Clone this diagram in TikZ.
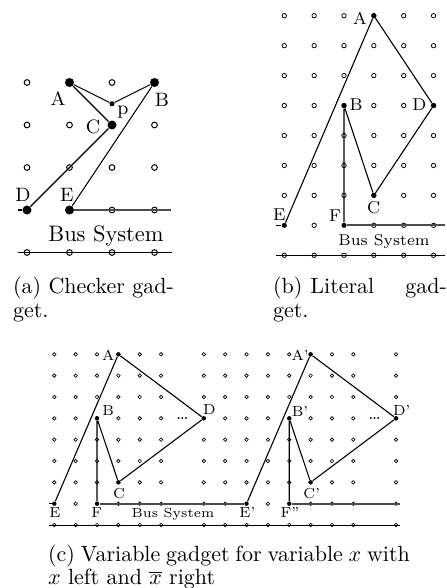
\documentclass[tikz,border=0pt]{standalone}
\usepackage{amsmath}
\usetikzlibrary{positioning}

\begin{document}
\begin{tikzpicture}[
  x=0.4545pt, y=-0.4545pt,
  gpa/.style={circle, draw, line width=0.45pt, inner sep=0pt, minimum size=2.6pt},
  gpb/.style={circle, draw, line width=0.35pt, inner sep=0pt, minimum size=2pt},
  gpc/.style={circle, draw, line width=0.3pt, inner sep=0pt, minimum size=1.6pt},
  dota/.style={circle, fill, inner sep=0pt, minimum size=4.1pt},
  dotb/.style={circle, fill, inner sep=0pt, minimum size=2.3pt},
  dotc/.style={circle, fill, inner sep=0pt, minimum size=2pt},
  lbla/.style={inner sep=0pt, font=\fontsize{8.8}{10}\selectfont},
  lblb/.style={inner sep=0pt, font=\fontsize{7.8}{9}\selectfont},
  lblc/.style={inner sep=0pt, font=\fontsize{6.6}{8}\selectfont},
  wire/.style={line width=0.5pt},
  busline/.style={line width=0.8pt, black!70},
  capt/.style={anchor=north west, inner sep=0pt, font=\fontsize{10}{10.8}\selectfont}
]
\useasboundingbox (0,0) rectangle (447,588);

% (a) Checker gadget
\foreach \i in {0,...,3}
  \foreach \j in {0,1,2}
    \node[gpa] (ga-\i-\j) at ({27+42.5*\i},{82.5+42.5*\j}) {};
\foreach \i in {2,3}
  \node[gpa] (ga-\i-3) at ({27+42.5*\i},210) {};
\foreach \i in {0,...,3}
  \node[gpa] (ga-\i-4) at ({27+42.5*\i},252.5) {};

\node[dota] (aA) at (69.5,82.5) {};
\node[dota] (aB) at (154.5,82.5) {};
\node[dota] (aC) at (112,125) {};
\node[dota, minimum size=2.3pt] (ap) at (112,103.75) {};
\node[dota] (aD) at (27,210) {};
\node[dota] (aE) at (69.5,210) {};
\coordinate (aDl) at (18,210);
\coordinate (aEr) at (171,210);
\coordinate (aBl) at (18,252.5);
\coordinate (aBr) at (172,252.5);

\draw[wire] (aA) -- (ap) -- (aB);
\draw[wire] (aA) -- (aC) -- (aD);
\draw[wire] (aB) -- (aE);
\draw[wire] (aDl) -- (aD);
\draw[busline] (aE) -- (aEr);
\draw[wire] (aBl) -- (aBr);

\node[lbla] (laA) at (58,99) {A};
\node[lbla] (laB) at (162,100) {B};
\node[lbla] (lap) at (123,112) {p};
\node[lbla] (laC) at (93,127) {C};
\node[lbla] (laD) at (23,195) {D};
\node[lbla] (laE) at (67,195) {E};
\node[inner sep=0pt, font=\fontsize{10.2}{12}\selectfont] (abus) at (106,236) {Bus System};

\node[capt, text width=74pt, align=left] (capa) at (12.7,276.8)
  {(a) Checker gad-\\get.};

% (b) Literal gadget
\foreach \i in {0,...,5}
  \foreach \j in {0,...,6}
    \node[gpb] (gb-\i-\j) at ({284.3+29.85*\i},{15.7+29.95*\j}) {};
\foreach \i in {1,3,4,5}
  \node[gpb] (gb-\i-7) at ({284.3+29.85*\i},225.35) {};
\foreach \i in {0,...,5}
  \node[gpb] (gb-\i-8) at ({284.3+29.85*\i},255.3) {};

\node[dotb] (bA) at (373.85,15.7) {};
\node[dotb] (bB) at (344,105.55) {};
\node[dotb] (bD) at (433.55,105.55) {};
\node[dotb] (bC) at (373.85,195.4) {};
\node[dotb] (bE) at (284.3,225.35) {};
\node[dotb] (bF) at (344,225.35) {};
\coordinate (bEl) at (276,225.35);
\coordinate (bFr) at (445,225.35);
\coordinate (bBl) at (276.5,255.3);
\coordinate (bBr) at (445,255.3);

\draw[wire] (bE) -- (bA) -- (bD) -- (bC) -- (bB) -- (bF);
\draw[wire] (bEl) -- (bE);
\draw[busline] (bF) -- (bFr);
\draw[wire] (bBl) -- (bBr);

\node[lblb] (lbA) at (360,18.3) {A};
\node[lblb] (lbB) at (356,104.3) {B};
\node[lblb] (lbD) at (419.3,105) {D};
\node[lblb] (lbC) at (373.7,207.3) {C};
\node[lblb] (lbE) at (279.3,215) {E};
\node[lblb] (lbF) at (335,216) {F};
\node[inner sep=0pt, font=\fontsize{7.1}{8.5}\selectfont] (bbus) at (384,241.5) {Bus System};

\node[capt, text width=79pt, align=left] (capb) at (272.7,276.8)
  {(b)\hspace{3.6pt}Literal\hfill gad-\\get.};

% (c) Variable gadget, x left and x-bar right
\foreach \i in {0,...,5,7,8,...,14,16}
  \foreach \j in {0,...,6}
    \node[gpc] (gc-\i-\j) at ({54.3+21.36*\i},{354.3+21.34*\j}) {};
\foreach \i in {1,3,4,5,7,8,10,12,13,14,16}
  \node[gpc] (gc-\i-7) at ({54.3+21.36*\i},503.68) {};
\foreach \i in {0,...,5,7,8,...,14,16}
  \node[gpc] (gc-\i-8) at ({54.3+21.36*\i},525) {};

\node[dotc] (cA) at (118.38,354.3) {};
\node[dotc] (cB) at (97.02,418.32) {};
\node[dotc] (cC) at (118.38,482.34) {};
\node[dotc] (cD) at (203.82,418.32) {};
\node[dotc] (cE) at (54.3,503.68) {};
\node[dotc] (cF) at (97.02,503.68) {};
\node[dotc] (cA2) at (310.62,354.3) {};
\node[dotc] (cB2) at (289.26,418.32) {};
\node[dotc] (cC2) at (310.62,482.34) {};
\node[dotc] (cD2) at (396.06,418.32) {};
\node[dotc] (cE2) at (246.54,503.68) {};
\node[dotc] (cF2) at (289.26,503.68) {};
\coordinate (cEl) at (49.3,503.68);
\coordinate (cFr) at (400,503.68);
\coordinate (cBl) at (49.3,525);
\coordinate (cBr) at (400,525);

\draw[wire] (cE) -- (cA) -- (cD) -- (cC) -- (cB) -- (cF);
\draw[wire] (cE2) -- (cA2) -- (cD2) -- (cC2) -- (cB2) -- (cF2);
\draw[wire] (cEl) -- (cE);
\draw[busline] (cF) -- (cE2);
\draw[busline] (cF2) -- (cFr);
\draw[line width=0.45pt] (cBl) -- (cBr);

\node[inner sep=0pt, font=\fontsize{8}{9}\selectfont] (lcdots) at (182.5,418.3) {\dots};
\node[inner sep=0pt, font=\fontsize{8}{9}\selectfont] (lcdots2) at (374.7,418.3) {\dots};

\node[lblc] (lcA) at (108.3,355) {A};
\node[lblc] (lcB) at (108.3,411) {B};
\node[lblc] (lcD) at (209.3,410) {D};
\node[lblc] (lcC) at (119,493.3) {C};
\node[lblc] (lcE) at (55,512.7) {E};
\node[lblc] (lcF) at (96.7,512.7) {F};
\node[lblc] (lcA2) at (300,355) {A'};
\node[lblc] (lcB2) at (300,411) {B'};
\node[lblc] (lcD2) at (401.7,410) {D'};
\node[lblc] (lcC2) at (311.7,493.3) {C'};
\node[lblc] (lcE2) at (247.3,512.7) {E'};
\node[lblc] (lcF2) at (290,512.7) {F''};
\node[inner sep=0pt, font=\fontsize{6}{7}\selectfont] (cbus) at (173,514) {Bus System};

\node[capt, text width=164.4pt, align=justify] (capc) at (47.7,544.2)
  {(c) Variable gadget for variable $x$ with\linebreak $x$ left and $\overline{x}$ right};

\end{tikzpicture}
\end{document}
